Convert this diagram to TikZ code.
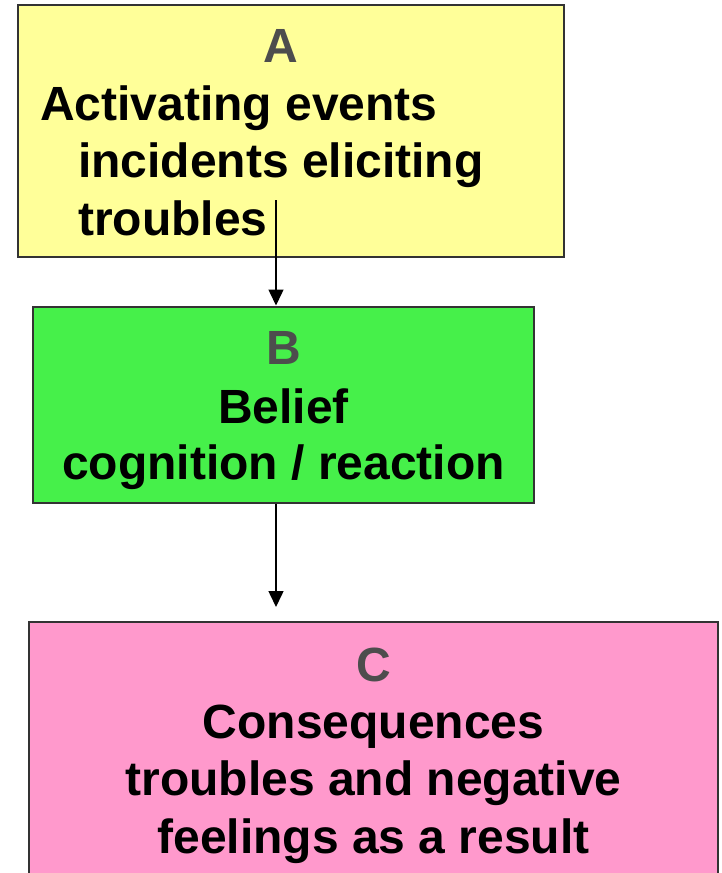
\documentclass[tikz,border=0pt]{standalone}
\usepackage{fontspec}
\setmainfont{Liberation Sans}
\usetikzlibrary{arrows.meta}
\definecolor{fillA}{HTML}{FFFF99}
\definecolor{fillB}{HTML}{46F04A}
\definecolor{fillC}{HTML}{FF99CC}
\definecolor{edgegray}{HTML}{333333}
\definecolor{labelgray}{HTML}{4D4D4D}
\tikzset{
  box/.style={draw=edgegray, line width=2pt, rectangle, inner sep=0pt},
  txt/.style={inner sep=0pt, font=\bfseries\fontsize{48}{57}\selectfont, text=black},
  lbl/.style={txt, text=labelgray},
  arr/.style={draw=black, line width=1.5pt, -{Triangle[length=16pt,width=15pt]}}
}
\begin{document}
\begin{tikzpicture}[x=1pt,y=-1pt]
\useasboundingbox (0,0) rectangle (721,873);
\clip (0,0) rectangle (721,873);
% boxes
\node[box, fill=fillA, minimum width=546pt, minimum height=252pt] (A) at (291,131) {};
\node[box, fill=fillB, minimum width=501pt, minimum height=196pt] (B) at (283.5,404.5) {};
\node[box, fill=fillC, minimum width=689pt, minimum height=280pt] (C) at (373.5,762) {};
% texts A
\node[lbl, anchor=base] (Al) at (281,62) {A};
\node[txt, anchor=base west] (A1) at (40,120) {Activating events};
\node[txt, anchor=base west] (A2) at (78,177) {incidents eliciting};
\node[txt, anchor=base west] (A3) at (78,235) {troubles};
% texts B
\node[lbl, anchor=base] (Bl) at (283.5,364) {B};
\node[txt, anchor=base] (B1) at (283.5,423) {Belief};
\node[txt, anchor=base] (B2) at (283.5,479) {cognition / reaction};
% texts C
\node[lbl, anchor=base] (Cl) at (373.5,681) {C};
\node[txt, anchor=base] (C1) at (373.5,738) {Consequences};
\node[txt, anchor=base] (C2) at (373.5,795) {troubles and negative};
\node[txt, anchor=base] (C3) at (373.5,853) {feelings as a result};
% connectors
\coordinate (a1) at (276,200);
\draw[arr] (a1) -- (a1 |- B.north);
\draw[arr] (a1 |- B.south) -- ([yshift=14pt]a1 |- C.north);
\end{tikzpicture}
\end{document}
